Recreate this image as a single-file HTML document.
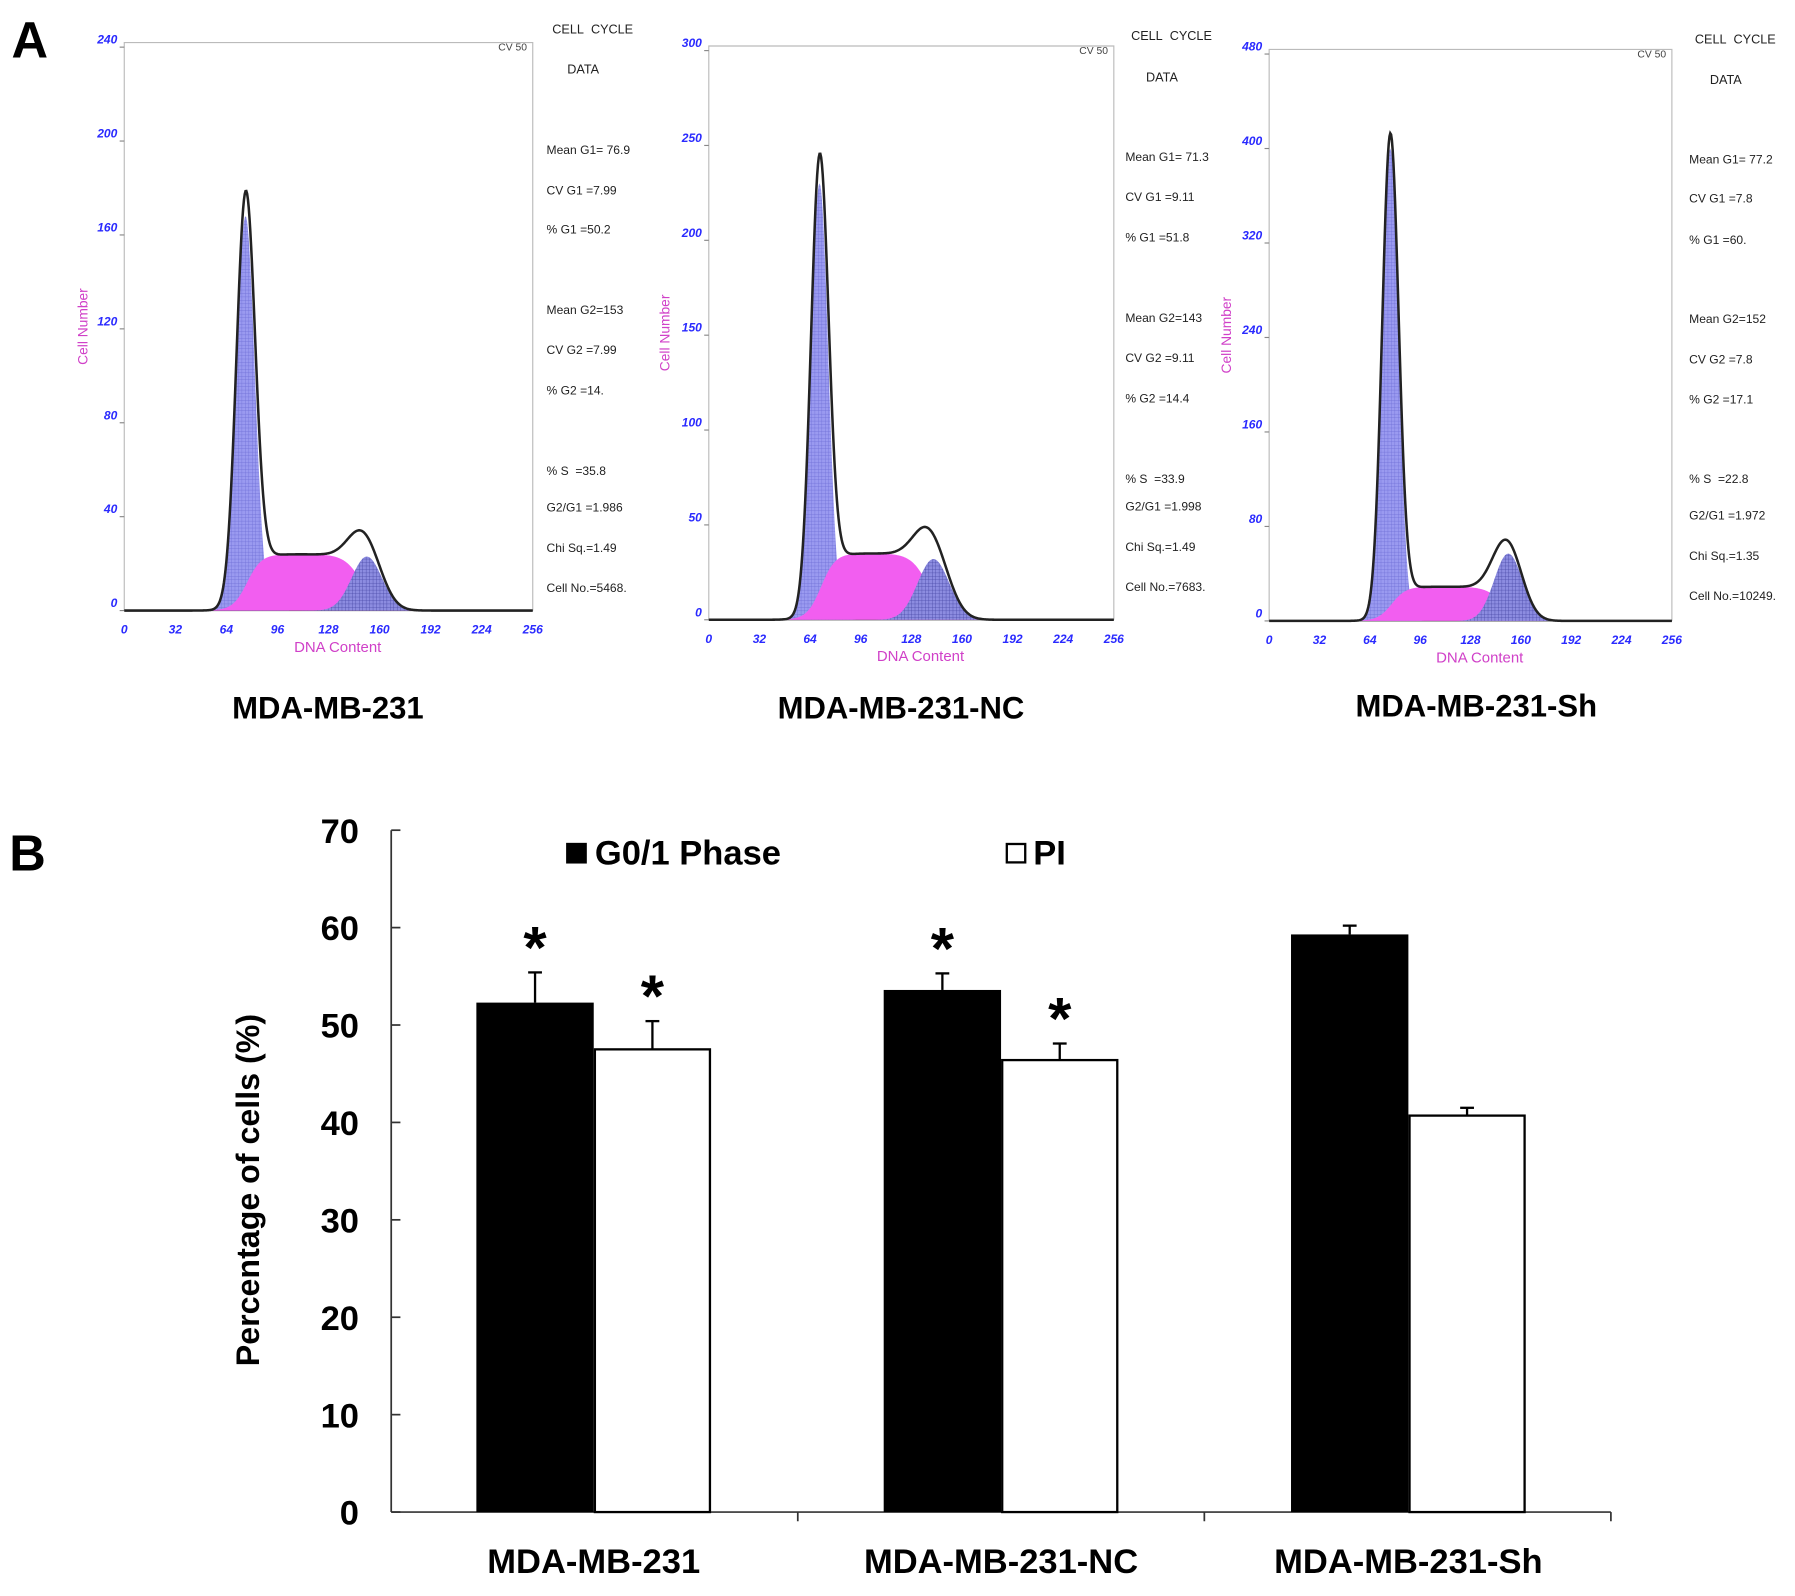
<!DOCTYPE html>
<html><head><meta charset="utf-8">
<style>
html,body{margin:0;padding:0;background:#fff;}
svg{display:block;}
text{font-family:"Liberation Sans",Arial,sans-serif;}
</style></head>
<body>
<svg id="fig" width="1795" height="1596" viewBox="0 0 1560 1388" preserveAspectRatio="none" xmlns="http://www.w3.org/2000/svg">
<defs>
<pattern id="grid" width="3" height="3" patternUnits="userSpaceOnUse">
<rect width="3" height="3" fill="#9a9af0"/><path d="M0 0H3M0 0V3" stroke="#6d6dd6" stroke-width="0.6"/>
</pattern>
<pattern id="grid2" width="3" height="3" patternUnits="userSpaceOnUse">
<rect width="3" height="3" fill="#8c8ce0"/><path d="M0 0H3M0 0V3" stroke="#4a4aa8" stroke-width="0.7"/>
</pattern>
</defs>
<text x="10" y="50" font-size="44" font-weight="bold">A</text>
<text x="8" y="757" font-size="44" font-weight="bold">B</text>
<g id="histos"></g>
<g id="barchart"></g>
</svg>
<script>
// ---- Panel A histogram data ----
const histTitles = ["MDA-MB-231", "MDA-MB-231-NC", "MDA-MB-231-Sh"];
const histYMax = [240, 300, 480];
const histYStep = [40, 50, 80];
const g1Mean = [76, 70, 77];
const g1Peak = [168, 230, 400];
const g1Sd = [5.8, 5.5, 5.2];
const sHeight = [24, 35, 29];
const g2Mean = [152, 142, 152];
const g2Peak = [23, 32, 57];
const g2Sd = [9.5, 10, 9];
const statsLines = [
 ["Mean G1= 76.9","CV G1 =7.99","% G1 =50.2","Mean G2=153","CV G2 =7.99","% G2 =14.","% S  =35.8","G2/G1 =1.986","Chi Sq.=1.49","Cell No.=5468."],
 ["Mean G1= 71.3","CV G1 =9.11","% G1 =51.8","Mean G2=143","CV G2 =9.11","% G2 =14.4","% S  =33.9","G2/G1 =1.998","Chi Sq.=1.49","Cell No.=7683."],
 ["Mean G1= 77.2","CV G1 =7.8","% G1 =60.","Mean G2=152","CV G2 =7.8","% G2 =17.1","% S  =22.8","G2/G1 =1.972","Chi Sq.=1.35","Cell No.=10249."]
];
const xTicks = [0,32,64,96,128,160,192,224,256];

// ---- Panel B bar data ----
const categories = ["MDA-MB-231","MDA-MB-231-NC","MDA-MB-231-Sh"];
const g01Values = [52.3, 53.6, 59.3];
const g01Errors = [3.1, 1.7, 0.9];
const piValues = [47.5, 46.4, 40.7];
const piErrors = [2.9, 1.7, 0.8];
const g01Sig = [true, true, false];
const piSig = [true, true, false];
const yTickValues = [0,10,20,30,40,50,60,70];

const NS="http://www.w3.org/2000/svg";
function mk(tag, attrs, parent, txt){
  const e=document.createElementNS(NS,tag);
  for(const k in attrs) e.setAttribute(k,attrs[k]);
  if(txt!==undefined) e.textContent=txt;
  parent.appendChild(e); return e;
}
const sig=z=>1/(1+Math.exp(-z));

const layouts=[
 {x0:108,x1:463,top:37,base:531,statX:475,stat:[130,165,199,269,304,339,409,441,476,511],cc:[480,25],dt:[493,60],title:[285,615],yl:72},
 {x0:616,x1:968,top:40,base:539,statX:978,stat:[136,171,206,276,311,346,416,440,475,510],cc:[983,31],dt:[996,67],title:[783,615],yl:578},
 {x0:1103,x1:1453,top:43,base:540,statX:1468,stat:[138,172,208,277,312,347,416,448,483,518],cc:[1473,34],dt:[1486,69],title:[1283,613],yl:1066}
];
const hg=document.getElementById('histos');
layouts.forEach((L,i)=>{
  const g=mk('g',{},hg);
  
  
  const ymax=histYMax[i];
  const top=L.top+4;
  const X=c=>L.x0+c*(L.x1-L.x0)/256;
  const Y=v=>L.base-v*(L.base-top)/ymax;
  mk('path',{d:`M${L.x0} ${L.base}V${L.top}H${L.x1}V${L.base}`,fill:'none',stroke:'#bbb','stroke-width':1},g);
  mk('line',{x1:L.x0,x2:L.x1,y1:L.base,y2:L.base,stroke:'#555','stroke-width':1},g);
  for(let v=0; v<=ymax; v+=histYStep[i]){
    mk('line',{x1:L.x0-4,x2:L.x0,y1:Y(v),y2:Y(v),stroke:'#888'},g);
    const t=mk('text',{x:L.x0-6,y:Y(v)-3,'font-size':10.5,'font-style':'italic','font-weight':'bold',fill:'#2a2aff','text-anchor':'end'},g,String(v));
    
    
  }
  xTicks.forEach(c=>{
    const t=mk('text',{x:X(c),y:L.base+20,'font-size':10.5,'font-style':'italic','font-weight':'bold',fill:'#2a2aff','text-anchor':'middle'},g,String(c));
    
    
  });
  const g1=c=>g1Peak[i]*Math.exp(-0.5*Math.pow((c-g1Mean[i])/g1Sd[i],2));
  const g2=c=>g2Peak[i]*Math.exp(-0.5*Math.pow((c-g2Mean[i])/g2Sd[i],2));
  const s=c=>sHeight[i]*sig((c-(g1Mean[i]+1))/4.5)*sig(((g2Mean[i]-3)-c)/5.5);
  const area=(f)=>{let d=`M${X(0)} ${L.base}`;for(let c=0;c<=256;c+=0.5)d+=`L${X(c).toFixed(2)} ${Y(f(c)).toFixed(2)}`;return d+`L${X(256)} ${L.base}Z`;};
  const line=(f)=>{let d='';for(let c=0;c<=256;c+=0.5)d+=(c?'L':'M')+`${X(c).toFixed(2)} ${Y(f(c)).toFixed(2)}`;return d;};
  const a1=mk('path',{d:area(g1),fill:'url(#grid)'},g);
   
  const a2=mk('path',{d:area(s),fill:'#f25ef0'},g);
   
  const a3=mk('path',{d:area(g2),fill:'url(#grid2)'},g);
   
  const env=mk('path',{d:line(c=>g1(c)+g2(c)+s(c)),fill:'none',stroke:'#222','stroke-width':2.2},g);
   
  mk('text',{x:L.x1-5,y:L.top+7,'font-size':9,fill:'#444','text-anchor':'end'},g,'CV 50');
  mk('text',{x:L.cc[0],y:L.cc[1]+4,'font-size':11,fill:'#222'},g,'CELL\u00a0\u00a0CYCLE');
  mk('text',{x:L.dt[0],y:L.dt[1]+4,'font-size':11,fill:'#222'},g,'DATA');
  statsLines[i].forEach((s2,k)=>{
    const t=mk('text',{x:L.statX,y:L.stat[k]+4,'font-size':10.5,fill:'#222'},g,s2.replace(/  /g,'\u00a0\u00a0'));
     
  });
  const yl=mk('text',{x:0,y:0,'font-size':12,fill:'#d040c8','text-anchor':'middle',transform:`translate(${L.yl+4},${(L.top+L.base)/2}) rotate(-90)`},g,'Cell Number');
   
  const xl=mk('text',{x:(L.x0+L.x1)/2+8,y:L.base+36,'font-size':13,fill:'#d040c8','text-anchor':'middle'},g,'DNA Content');
   
  const tt=mk('text',{x:L.title[0],y:L.title[1]+10,'font-size':27,'font-weight':'bold','text-anchor':'middle'},g,histTitles[i]);
   
});

// ---- bar chart ----
const bg=document.getElementById('barchart');
const AX={x0:340,x1:1400,y0:1315,y70:722};
const yB=v=>AX.y0-v*(AX.y0-AX.y70)/70;
const groupCenters=i=>516+i*354;
const barW=102;
mk('line',{x1:AX.x0,x2:AX.x0,y1:AX.y70,y2:AX.y0,stroke:'#333','stroke-width':1.5},bg);
mk('line',{x1:AX.x0,x2:AX.x1,y1:AX.y0,y2:AX.y0,stroke:'#333','stroke-width':1.5},bg);
yTickValues.forEach(v=>{
  mk('line',{x1:AX.x0,x2:AX.x0+8,y1:yB(v),y2:yB(v),stroke:'#333','stroke-width':1.5},bg);
  const t=mk('text',{x:312,y:yB(v)+11,'font-size':30,'font-weight':'bold','text-anchor':'end'},bg,String(v));
   
});
[1,2,3].forEach(k=>mk('line',{x1:AX.x0+k*(AX.x1-AX.x0)/3,x2:AX.x0+k*(AX.x1-AX.x0)/3,y1:AX.y0,y2:AX.y0+8,stroke:'#333','stroke-width':1.5},bg));
categories.forEach((c,i)=>{
  const cx=groupCenters(i);
  const b=mk('rect',{x:cx-barW,y:yB(g01Values[i]),width:barW,height:AX.y0-yB(g01Values[i]),fill:'#000'},bg);
   
  const w=mk('rect',{x:cx+1,y:yB(piValues[i]),width:barW-2,height:AX.y0-yB(piValues[i]),fill:'#fff',stroke:'#000','stroke-width':2},bg);
   
  [[cx-barW/2,g01Values[i],g01Errors[i],g01Sig[i]],[cx+barW/2,piValues[i],piErrors[i],piSig[i]]].forEach(([x,v,e,s])=>{
    mk('line',{x1:x,x2:x,y1:yB(v),y2:yB(v+e),stroke:'#000','stroke-width':2},bg);
    mk('line',{x1:x-6,x2:x+6,y1:yB(v+e),y2:yB(v+e),stroke:'#000','stroke-width':2},bg);
    if(s){const st=mk('text',{x:x,y:yB(v+e)-4,'font-size':52,'font-weight':'bold','text-anchor':'middle'},bg,'*');
       }
  });
  const t=mk('text',{x:cx,y:1368,'font-size':30,'font-weight':'bold','text-anchor':'middle'},bg,c);
   
});
const lg=mk('g',{},bg);
 
mk('rect',{x:492,y:733,width:18,height:18,fill:'#000'},lg);
mk('text',{x:517,y:752,'font-size':30,'font-weight':'bold'},lg,'G0/1 Phase');
mk('rect',{x:875,y:734,width:16,height:16,fill:'#fff',stroke:'#000','stroke-width':2},lg);
mk('text',{x:898,y:752,'font-size':30,'font-weight':'bold'},lg,'PI');
const yt=mk('text',{x:0,y:0,'font-size':28,'font-weight':'bold','text-anchor':'middle',transform:'translate(225,1035) rotate(-90)'},bg,'Percentage of cells (%)');
 
</script>
</body></html>
